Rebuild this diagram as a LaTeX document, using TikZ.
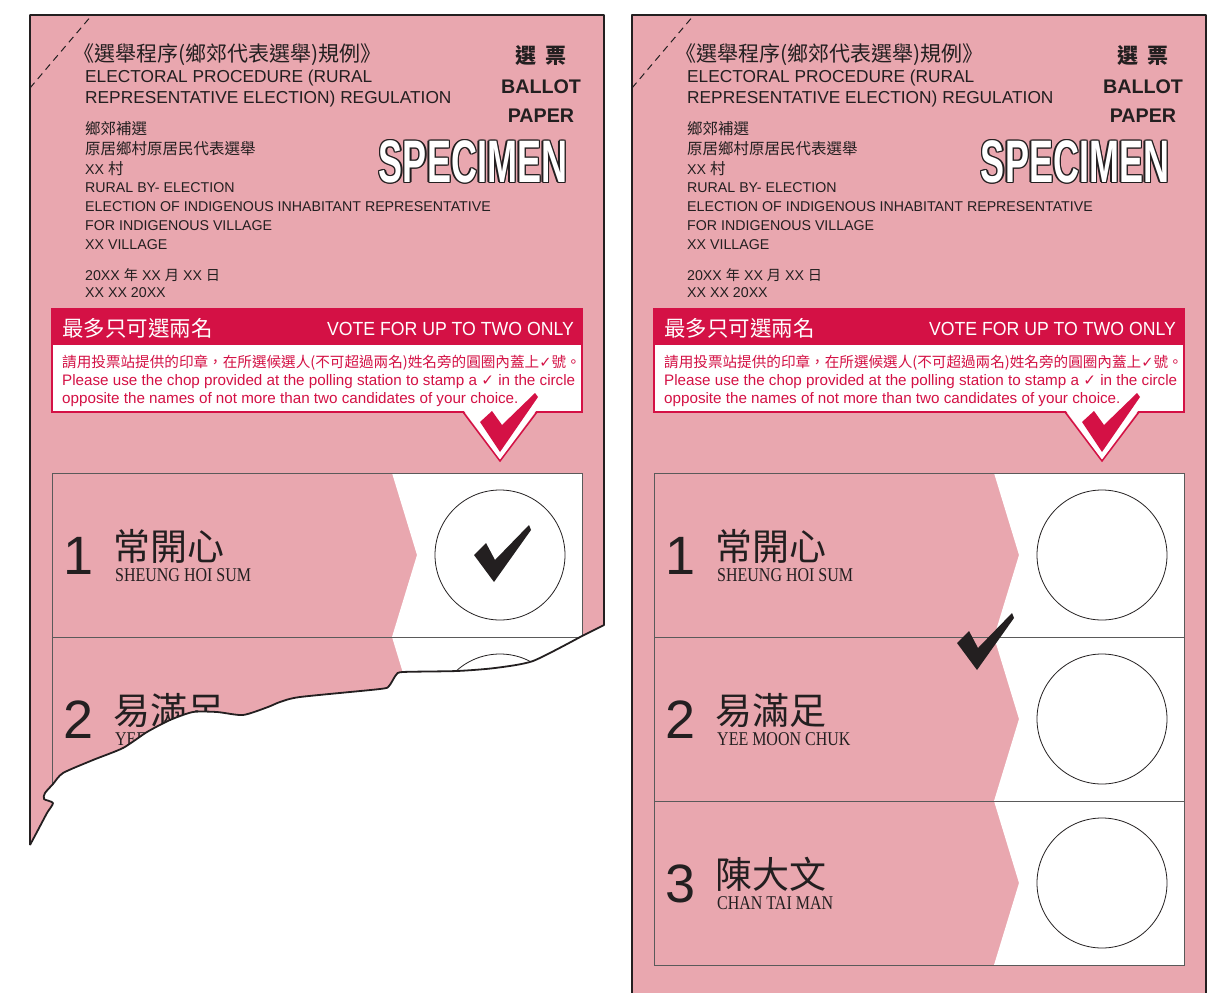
\documentclass[tikz,border=0pt]{standalone}
\usepackage{fontspec}
\setmainfont{Liberation Sans}
\newfontfamily\zhfont{Noto Sans CJK TC}
\newfontfamily\namefont[FakeStretch=0.82]{Liberation Serif}
\newfontfamily\specfont[FakeStretch=0.6]{Liberation Sans}
\newfontfamily\narrowfont[FakeStretch=0.93]{Liberation Sans}
\newfontfamily\symfont{DejaVu Sans}
\usepackage{tikz}

\definecolor{ballotpink}{RGB}{233,167,175}
\definecolor{ballotred}{RGB}{212,17,69}
\definecolor{inkgray}{RGB}{35,31,32}
\definecolor{rulegray}{RGB}{90,90,90}

\newcommand{\fs}[1]{\fontsize{#1}{#1}\selectfont}

\tikzset{
  paperedge/.style={draw=inkgray, line width=1.8pt, line join=round},
  headtext/.style={anchor=base west, inner sep=0pt, text=inkgray},
  redtext/.style={anchor=base west, inner sep=0pt, text=ballotred},
  rowbox/.style={draw=rulegray, line width=1pt},
  votecircle/.style={draw=inkgray, line width=0.8pt},
  specimen/.style={anchor=base, inner sep=0pt, font=\specfont\bfseries\fs{60}},
}

% edge of the torn paper on the left
\newcommand{\tornedge}{(30,845) -- (30,15) -- (604,15) -- (604,625) --
  plot[smooth, tension=0.4] coordinates {(582,636) (533,661) (495,668) (457,671)
  (403,672) (396,675) (389,686) (380,689) (300,697) (280,702) (268,707) (243,715)
  (217,712) (193,712) (170,720) (147,732) (123,748) (93,760) (63,773) (53,784)
  (45,793) (44,799) (53,803) (47,813) (38,830) (30,845)}}

% stamped tick, left corner at (#1,#2)
\newcommand{\tickmark}[2]{\fill[inkgray] (#1,#2) -- (#1+12,#2-12) -- (#1+21,#2+5)
  -- (#1+55,#2-30) -- (#1+57,#2-25) -- (#1+20,#2+27) -- cycle;}

% one ballot paper, left edge at x=30
\newcommand{\ballotbody}[1]{%
  \draw[inkgray, line width=1pt, dash pattern=on 7pt off 5pt] (30,88) -- (92,15);
  % heading
  \node[headtext, font=\zhfont\fs{21}] (#1act) at (73,61) {《選舉程序(鄉郊代表選舉)規例》};
  \node[headtext, font=\fs{17.3}] (#1ord1) at (85,82) {ELECTORAL PROCEDURE (RURAL};
  \node[headtext, font=\fs{17.3}] (#1ord2) at (85,103) {REPRESENTATIVE ELECTION) REGULATION};
  \node[headtext, font=\zhfont\fs{15.5}] (#1zh1) at (85,134) {鄉郊補選};
  \node[headtext, font=\zhfont\fs{15.5}] (#1zh2) at (85,154) {原居鄉村原居民代表選舉};
  \node[headtext, font=\fs{14.2}] (#1zh3) at (85,174) {XX {\zhfont\fs{15.5}村}};
  \node[headtext, font=\fs{14.2}] (#1en1) at (85,192) {RURAL BY- ELECTION};
  \node[headtext, font=\fs{14.2}] (#1en2) at (85,211) {ELECTION OF INDIGENOUS INHABITANT REPRESENTATIVE};
  \node[headtext, font=\fs{14.2}] (#1en3) at (85,230) {FOR INDIGENOUS VILLAGE};
  \node[headtext, font=\fs{14.2}] (#1en4) at (85,249) {XX VILLAGE};
  \node[headtext, font=\fs{14.2}] (#1date1) at (85,280) {20XX {\zhfont 年} XX {\zhfont 月} XX {\zhfont 日}};
  \node[headtext, font=\fs{14.2}] (#1date2) at (85,297) {XX XX 20XX};
  \node[anchor=base, inner sep=0pt, text=inkgray, font=\zhfont\bfseries\fs{21}] (#1kindzh) at (541,63) {選\hspace{9pt}票};
  \node[anchor=base, inner sep=0pt, text=inkgray, font=\bfseries\fs{19.7}] (#1kind1) at (541,93) {BALLOT};
  \node[anchor=base, inner sep=0pt, text=inkgray, font=\bfseries\fs{19.7}] (#1kind2) at (541,122) {PAPER};
  \foreach \ox/\oy [count=\i] in {-1.4/0,1.4/0,0/-1.4,0/1.4,-1/-1,1/1,-1/1,1/-1}
    \node[specimen, text=inkgray] (#1spec\i) at (473+\ox,182.5+\oy) {SPECIMEN};
  \node[specimen, text=white] (#1spec) at (473,182.5) {SPECIMEN};
  % voting note
  \filldraw[fill=white, draw=ballotred, line width=1.5pt] (52,309) rectangle (582,412);
  \fill[ballotred] (52,309) rectangle (582,345);
  \node[anchor=base west, inner sep=0pt, text=white, font=\zhfont\fs{21.5}] (#1limit) at (62,336) {最多只可選兩名};
  \node[anchor=base east, inner sep=0pt, text=white, font=\narrowfont\fs{19}] (#1vote) at (574,335) {VOTE FOR UP TO TWO ONLY};
  \node[redtext, font=\zhfont\fs{14.6}] (#1howzh) at (62,367) {請用投票站提供的印章，在所選候選人(不可超過兩名)姓名旁的圓圈內蓋上{\symfont ✓}號。};
  \node[redtext, font=\fs{15.2}] (#1howen1) at (62,385.5) {Please use the chop provided at the polling station to stamp a {\symfont ✓} in the circle};
  \node[redtext, font=\fs{15.2}] (#1howen2) at (62,403) {opposite the names of not more than two candidates of your choice.};
  \fill[white] (464,411) -- (500,460) -- (536,411) -- cycle;
  \draw[ballotred, line width=1.5pt] (463,412) -- (500,461) -- (537,412);
  \fill[ballotred] (480,422) -- (492,411) -- (502,425) -- (535,393) -- (538,397) -- (500,452) -- cycle;
  % candidates
  \foreach \k/\zhname/\enname in {1/常開心/SHEUNG HOI SUM, 2/易滿足/YEE MOON CHUK, 3/陳大文/CHAN TAI MAN}{
    \pgfmathsetmacro{\rowy}{473+164*(\k-1)}
    \fill[white] (392,\rowy) -- (582,\rowy) -- (582,\rowy+164) -- (392,\rowy+164) -- (417,\rowy+82) -- cycle;
    \draw[rowbox] (52,\rowy) rectangle (582,\rowy+164);
    \draw[votecircle] (500,\rowy+82) circle[radius=65pt];
    \node[anchor=base, inner sep=0pt, text=inkgray, font=\fs{54}] (#1num\k) at (79,\rowy+101.5) {\k};
    \node[anchor=base west, inner sep=0pt, text=inkgray, font=\zhfont\fs{37}] (#1zhname\k) at (113,\rowy+87) {\zhname};
    \node[anchor=base west, inner sep=0pt, text=inkgray, font=\namefont\fs{19.5}] (#1enname\k) at (115,\rowy+108.5) {\enname};
  }
}

\begin{document}
\begin{tikzpicture}[x=1pt, y=-1pt]
\useasboundingbox (0,0) rectangle (1227,993);
% left paper, torn below the first candidate
\fill[ballotpink] \tornedge -- cycle;
\begin{scope}
  \clip \tornedge -- cycle;
  \ballotbody{l}
  \tickmark{474}{555}
\end{scope}
\draw[paperedge] \tornedge;
% right paper, mark outside the circles
\begin{scope}[xshift=602]
  \fill[ballotpink] (30,15) rectangle (604,993);
  \ballotbody{r}
  \tickmark{355}{643}
  \draw[paperedge] (30,993) -- (30,15) -- (604,15) -- (604,993);
\end{scope}
\end{tikzpicture}
\end{document}
